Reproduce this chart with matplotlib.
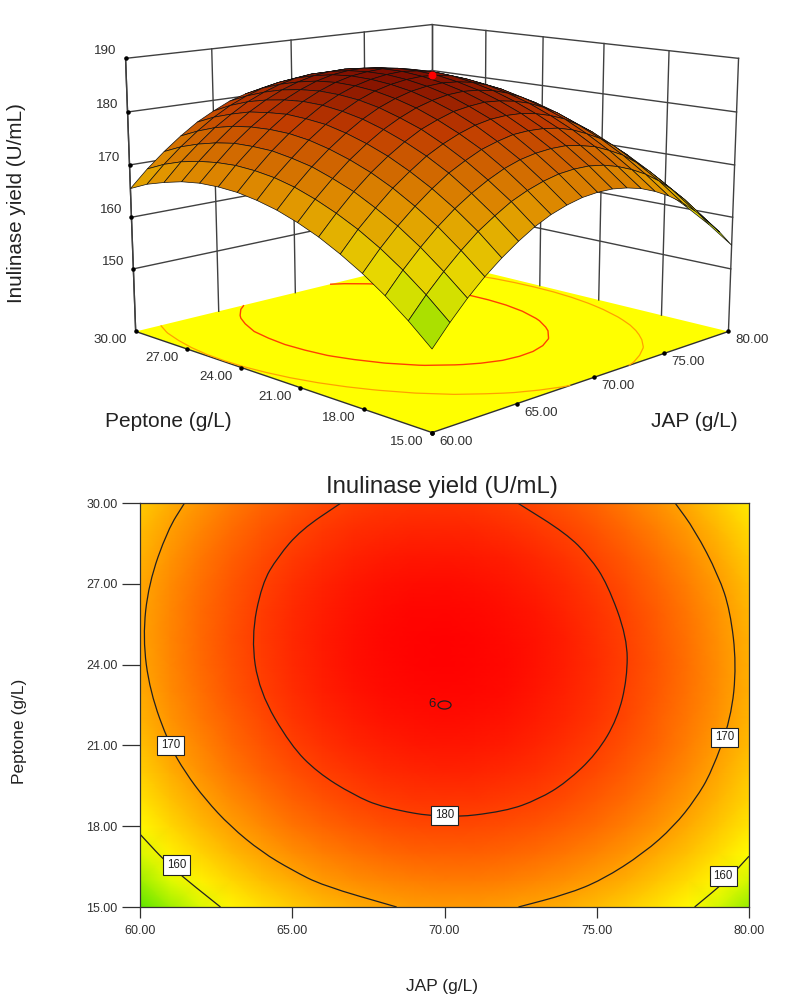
import matplotlib
matplotlib.use('Agg')
import matplotlib.pyplot as plt
from matplotlib.colors import LinearSegmentedColormap, Normalize
from matplotlib.patches import Ellipse, PathPatch
from matplotlib.path import Path
from mpl_toolkits.mplot3d import proj3d
import numpy as np

plt.rcParams['font.family'] = ['Liberation Sans', 'DejaVu Sans']

''' Data read from the reference
'''
jap = [60, 61, 62, 63, 64, 65, 66, 67, 68, 69, 70, 71, 72, 73, 74, 75, 76, 77, 78, 79, 80]
peptone = [15, 16, 17, 18, 19, 20, 21, 22, 23, 24, 25, 26, 27, 28, 29, 30]
# one row per peptone value, one column per jap value
yield_grid = [
    [151.5, 155.0, 158.2, 161.0, 163.4, 165.5, 167.3, 168.7, 169.7, 170.4, 170.7, 170.7, 170.3, 169.6, 168.5, 167.1, 165.3, 163.1, 160.6, 157.8, 154.6],
    [155.0, 158.5, 161.6, 164.4, 166.9, 168.9, 170.7, 172.0, 173.0, 173.7, 174.0, 174.0, 173.6, 172.8, 171.7, 170.3, 168.5, 166.3, 163.8, 160.9, 157.7],
    [158.1, 161.6, 164.7, 167.5, 169.9, 171.9, 173.6, 175.0, 176.0, 176.6, 176.9, 176.9, 176.4, 175.7, 174.5, 173.1, 171.2, 169.0, 166.5, 163.6, 160.3],
    [160.8, 164.3, 167.4, 170.1, 172.5, 174.6, 176.2, 177.6, 178.5, 179.2, 179.4, 179.3, 178.9, 178.1, 176.9, 175.5, 173.6, 171.4, 168.8, 165.9, 162.6],
    [163.1, 166.6, 169.6, 172.4, 174.7, 176.8, 178.4, 179.7, 180.7, 181.3, 181.5, 181.4, 180.9, 180.1, 179.0, 177.4, 175.6, 173.3, 170.7, 167.8, 164.5],
    [165.1, 168.5, 171.6, 174.3, 176.6, 178.6, 180.3, 181.5, 182.5, 183.0, 183.3, 183.1, 182.6, 181.8, 180.6, 179.1, 177.2, 174.9, 172.3, 169.3, 166.0],
    [166.7, 170.1, 173.1, 175.8, 178.1, 180.1, 181.7, 183.0, 183.9, 184.5, 184.7, 184.5, 184.0, 183.1, 181.9, 180.4, 178.4, 176.2, 173.5, 170.5, 167.2],
    [168.0, 171.4, 174.4, 177.0, 179.3, 181.3, 182.9, 184.1, 185.0, 185.5, 185.7, 185.5, 185.0, 184.1, 182.9, 181.3, 179.4, 177.0, 174.4, 171.4, 168.0],
    [168.9, 172.3, 175.2, 177.9, 180.2, 182.1, 183.7, 184.9, 185.7, 186.2, 186.4, 186.2, 185.7, 184.7, 183.5, 181.9, 179.9, 177.6, 174.9, 171.9, 168.5],
    [169.5, 172.8, 175.8, 178.4, 180.6, 182.6, 184.1, 185.3, 186.1, 186.6, 186.8, 186.5, 186.0, 185.0, 183.8, 182.1, 180.1, 177.8, 175.1, 172.0, 168.6],
    [169.7, 173.0, 175.9, 178.5, 180.8, 182.7, 184.2, 185.4, 186.2, 186.6, 186.8, 186.5, 185.9, 185.0, 183.7, 182.0, 180.0, 177.6, 174.9, 171.8, 168.4],
    [169.6, 172.8, 175.8, 178.3, 180.5, 182.4, 183.9, 185.1, 185.9, 186.3, 186.4, 186.1, 185.5, 184.6, 183.2, 181.6, 179.5, 177.1, 174.4, 171.3, 167.9],
    [169.1, 172.3, 175.2, 177.8, 180.0, 181.8, 183.3, 184.4, 185.2, 185.6, 185.7, 185.4, 184.8, 183.8, 182.4, 180.7, 178.7, 176.3, 173.5, 170.4, 166.9],
    [168.2, 171.5, 174.3, 176.9, 179.0, 180.9, 182.3, 183.4, 184.2, 184.6, 184.6, 184.3, 183.7, 182.7, 181.3, 179.6, 177.5, 175.1, 172.3, 169.1, 165.6],
    [167.1, 170.3, 173.1, 175.6, 177.8, 179.6, 181.0, 182.1, 182.8, 183.2, 183.2, 182.9, 182.2, 181.2, 179.8, 178.1, 176.0, 173.5, 170.7, 167.5, 164.0],
    [165.5, 168.7, 171.5, 174.0, 176.2, 177.9, 179.4, 180.4, 181.1, 181.5, 181.5, 181.1, 180.4, 179.4, 178.0, 176.2, 174.1, 171.6, 168.8, 165.6, 162.0],
]
jap_ticks = [60, 65, 70, 75, 80]
peptone_ticks = [15, 18, 21, 24, 27, 30]
yield_ticks = [150, 160, 170, 180, 190]
contour_levels = [160, 170, 180]
label_jap = [61.0, 79.2, 70.0, 61.2, 79.15]
label_peptone = [21.0, 21.3, 18.4, 16.55, 16.15]
label_text = ['170', '170', '180', '160', '160']
centre_point = (70, 22.5, 186.9)
floor = 137.7

J, P = np.meshgrid(jap, peptone)
Z = np.array(yield_grid)

cmap = LinearSegmentedColormap.from_list('rsm', [(0.0, '#40e000'), (0.27, '#ffff00'), (1.0, '#ff0000')])
# the surface looks darker because the reference mesh is much denser
mesh_cmap = LinearSegmentedColormap.from_list('rsm_mesh', [(0.0, '#70e000'), (0.27, '#e8e000'), (0.54, '#e09000'),
                                                           (0.81, '#c03a00'), (1.0, '#7a0c00')])
norm = Normalize(150, 187)
wall_col = '#404040'
text_col = '#303030'


def smooth_path(verts, min_step=1.1):
    # rounds a contour line: drop vertices that sit very close, then run curves between the rest
    keep = [verts[0]]
    for v in verts[1:-1]:
        if np.hypot(*(v - keep[-1])) >= min_step and np.hypot(*(v - verts[-1])) >= min_step:
            keep.append(v)
    keep.append(verts[-1])
    keep = np.array(keep)
    mids = (keep[:-1] + keep[1:]) / 2
    pts = [keep[0], mids[0]]
    codes = [Path.MOVETO, Path.LINETO]
    for i in range(1, len(mids)):
        pts += [keep[i], mids[i]]
        codes += [Path.CURVE3, Path.CURVE3]
    pts.append(keep[-1])
    codes.append(Path.LINETO)
    return Path(pts, codes)


def tick_text(ax, x, y, z, s, dx, dy):
    # tick label at a pixel offset from the projected tick
    px, py, _ = proj3d.proj_transform(x, y, z, ax.get_proj())
    ax.annotate(s, xy=(px, py), xytext=(dx, dy), textcoords='offset pixels', fontsize=9.6,
                color=text_col, ha='center', va='center', annotation_clip=False)


fig = plt.figure(figsize=(7.87, 10.05), dpi=100)

''' 3D surface
'''
ax = fig.add_axes([0.027, 0.395, 800 / 787, 800 / 1005], projection='3d', computed_zorder=False)
ax.set_proj_type('persp', focal_length=0.4)
ax.view_init(elev=12.0, azim=-135)
ax.set_box_aspect((1, 1, 0.655), zoom=0.806)
ax.set_xlim(60, 80, view_margin=0)
ax.set_ylim(15, 30, view_margin=0)
ax.set_zlim(floor, 190, view_margin=0)
ax.grid(False)
ax.patch.set_alpha(0)
ax.xaxis.set_pane_color('white')
ax.yaxis.set_pane_color('white')
ax.zaxis.set_pane_color('#ffff00')
for a in (ax.xaxis, ax.yaxis, ax.zaxis):
    a.pane.set_edgecolor('none')
    a.line.set_color(text_col)
    a.line.set_linewidth(1.0)
    a._axinfo['tick'].update(inward_factor=0, outward_factor=0)

for j in jap_ticks:
    ax.plot([j, j], [30, 30], [floor, 190], color=wall_col, lw=1.0, zorder=0.5)
for p in peptone_ticks:
    ax.plot([80, 80], [p, p], [floor, 190], color=wall_col, lw=1.0, zorder=0.5)
for z in yield_ticks:
    ax.plot([60, 80], [30, 30], [z, z], color=wall_col, lw=1.0, zorder=0.5)
    ax.plot([80, 80], [15, 30], [z, z], color=wall_col, lw=1.0, zorder=0.5)

ax.contour(J, P, Z, levels=[170], zdir='z', offset=floor, colors='#ffa000', linewidths=0.9, zorder=1)
ax.contour(J, P, Z, levels=[180], zdir='z', offset=floor, colors='#ff4000', linewidths=1.0, zorder=1)
ax.plot_surface(J, P, Z, cmap=mesh_cmap, norm=norm, rstride=1, cstride=1, edgecolor='#101010',
                linewidth=0.5, shade=False, zorder=2)
ax.scatter([centre_point[0]], [centre_point[1]], [centre_point[2]], color='#ff0000', s=22,
           depthshade=False, zorder=3)

# small black dots on the axis ticks
ax.scatter(jap_ticks, [15] * len(jap_ticks), [floor] * len(jap_ticks), color='k', s=5, depthshade=False, zorder=3)
ax.scatter([60] * len(peptone_ticks), peptone_ticks, [floor] * len(peptone_ticks), color='k', s=5, depthshade=False, zorder=3)
ax.scatter([60] * len(yield_ticks), [30] * len(yield_ticks), yield_ticks, color='k', s=5, depthshade=False, zorder=3)

ax.set_xticks(jap_ticks)
ax.set_xticklabels([])
ax.set_yticks(peptone_ticks)
ax.set_yticklabels([])
ax.set_zticks(yield_ticks)
ax.set_zticklabels([])
for v in jap_ticks:
    tick_text(ax, v, 15, floor, '%.2f' % v, 24, -9)
for v in peptone_ticks:
    tick_text(ax, 60, v, floor, '%.2f' % v, -25, -9)
for v in yield_ticks:
    tick_text(ax, 60, 30, v, str(v), -20, 7)

fig.text(168 / 787, 1 - 421 / 1005, 'Peptone (g/L)', fontsize=15, ha='center', va='center', color='#222222')
fig.text(694 / 787, 1 - 421 / 1005, 'JAP (g/L)', fontsize=15, ha='center', va='center', color='#222222')
fig.text(17 / 787, 1 - 203 / 1005, 'Inulinase yield (U/mL)', fontsize=14.9, rotation=90,
         ha='center', va='center', color='#222222')

''' Contour plot
'''
ax2 = fig.add_axes([140 / 787, 1 - 907 / 1005, 609 / 787, 404 / 1005])
ax2.pcolormesh(J, P, Z, cmap=cmap, norm=norm, shading='gouraud')
cs = ax2.contour(J, P, Z, levels=contour_levels, colors='none')
for segs in cs.allsegs:
    for seg in segs:
        ax2.add_patch(PathPatch(smooth_path(seg), fill=False, edgecolor='#202020', lw=0.9))
ax2.add_patch(Ellipse((centre_point[0], centre_point[1]), 0.43, 0.3, fill=False, edgecolor='#202020', lw=0.9))
ax2.text(centre_point[0] - 0.42, centre_point[1] + 0.05, '6', fontsize=9.5, ha='center', va='center', color='#202020')
for x, y, s in zip(label_jap, label_peptone, label_text):
    ax2.text(x, y, s, fontsize=8.3, ha='center', va='center', color='#202020', zorder=5,
             bbox=dict(boxstyle='square,pad=0.33', facecolor='white', edgecolor='#202020', linewidth=0.8))
ax2.set_xlim(60, 80)
ax2.set_ylim(15, 30)
ax2.set_xticks(jap_ticks)
ax2.set_xticklabels(['%.2f' % v for v in jap_ticks], fontsize=9, color=text_col)
ax2.set_yticks(peptone_ticks)
ax2.set_yticklabels(['%.2f' % v for v in peptone_ticks], fontsize=9, color=text_col)
ax2.tick_params(axis='x', length=8, width=0.9, color=text_col, pad=5)
ax2.tick_params(axis='y', length=13, width=0.9, color=text_col, pad=3)
for s in ax2.spines.values():
    s.set_color(text_col)
    s.set_linewidth(0.9)

fig.text(441.5 / 787, 1 - 487 / 1005, 'Inulinase yield (U/mL)', fontsize=17.3, ha='center', va='center', color='#222222')
fig.text(442 / 787, 1 - 986 / 1005, 'JAP (g/L)', fontsize=12.5, ha='center', va='center', color='#222222')
fig.text(20 / 787, 1 - 731 / 1005, 'Peptone (g/L)', fontsize=12.5, rotation=90, ha='center', va='center', color='#222222')

fig.savefig('out.png', dpi=100)
